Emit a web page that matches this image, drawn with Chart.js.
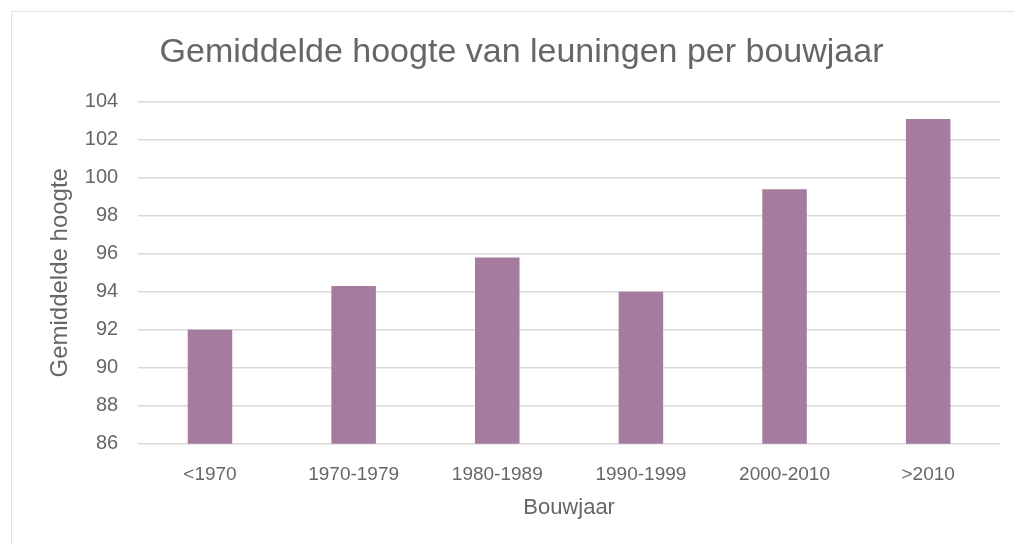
<!DOCTYPE html>
<html>
<head>
<meta charset="utf-8">
<script src="https://cdn.jsdelivr.net/npm/chart.js@4"></script>
<style>
  html, body { margin: 0; padding: 0; background: #fff; }
  #frame {
    position: absolute; left: 11px; top: 11px; width: 1010px; height: 540px;
    border-left: 1px solid #e3e3e3; border-top: 1px solid #e3e3e3;
  }
  #chart { position: absolute; left: 0; top: 0; }
</style>
</head>
<body>
<div id="frame"></div>
<canvas id="chart" width="1014" height="544"></canvas>
<script>
var categories = ['<1970', '1970-1979', '1980-1989', '1990-1999', '2000-2010', '>2010'];
var heights = [92.0, 94.3, 95.8, 94.0, 99.4, 103.1];
var yTicks = [86, 88, 90, 92, 94, 96, 98, 100, 102, 104];

var grey = '#666666';
var ctx = document.getElementById('chart').getContext('2d');

var heightChart = new Chart(ctx, {
    type: 'bar',
    data: {
        labels: categories,
        datasets: [{
            label: 'Gemiddelde hoogte',
            data: heights,
            backgroundColor: '#a67c9e',
            barPercentage: 0.31,
            categoryPercentage: 1
        }]
    },
    options: {
        responsive: false,
        animation: false,
        layout: { padding: { left: 43, right: 14, top: 12, bottom: 20 } },
        plugins: {
            legend: { display: false },
            tooltip: { enabled: false },
            title: {
                display: true,
                text: 'Gemiddelde hoogte van leuningen per bouwjaar',
                color: grey,
                font: { family: 'Liberation Sans', size: 34, weight: 'normal' },
                padding: { top: 20, bottom: 29 }
            }
        },
        scales: {
            x: {
                grid: { display: false, drawTicks: false },
                border: { display: false },
                ticks: { color: grey, font: { family: 'Liberation Sans', size: 19 }, padding: 19.5 },
                // for a bottom axis, padding.bottom is the gap to the edge
                title: {
                    display: true, text: 'Bouwjaar', color: grey,
                    font: { family: 'Liberation Sans', size: 22 }, padding: { top: -11, bottom: 3 }
                }
            },
            y: {
                min: 86,
                max: 104,
                afterBuildTicks: function (axis) {
                    axis.ticks = yTicks.map(function (v) { return { value: v }; });
                },
                grid: { color: '#d9d9d9', lineWidth: 1.5, drawTicks: false },
                border: { display: false },
                ticks: { color: grey, font: { family: 'Liberation Sans', size: 20 }, padding: 20 },
                title: {
                    display: true, text: 'Gemiddelde hoogte', color: grey,
                    font: { family: 'Liberation Sans', size: 24 }, padding: { top: 2.5, bottom: -9.5 }
                }
            }
        }
    }
});
</script>
</body>
</html>
